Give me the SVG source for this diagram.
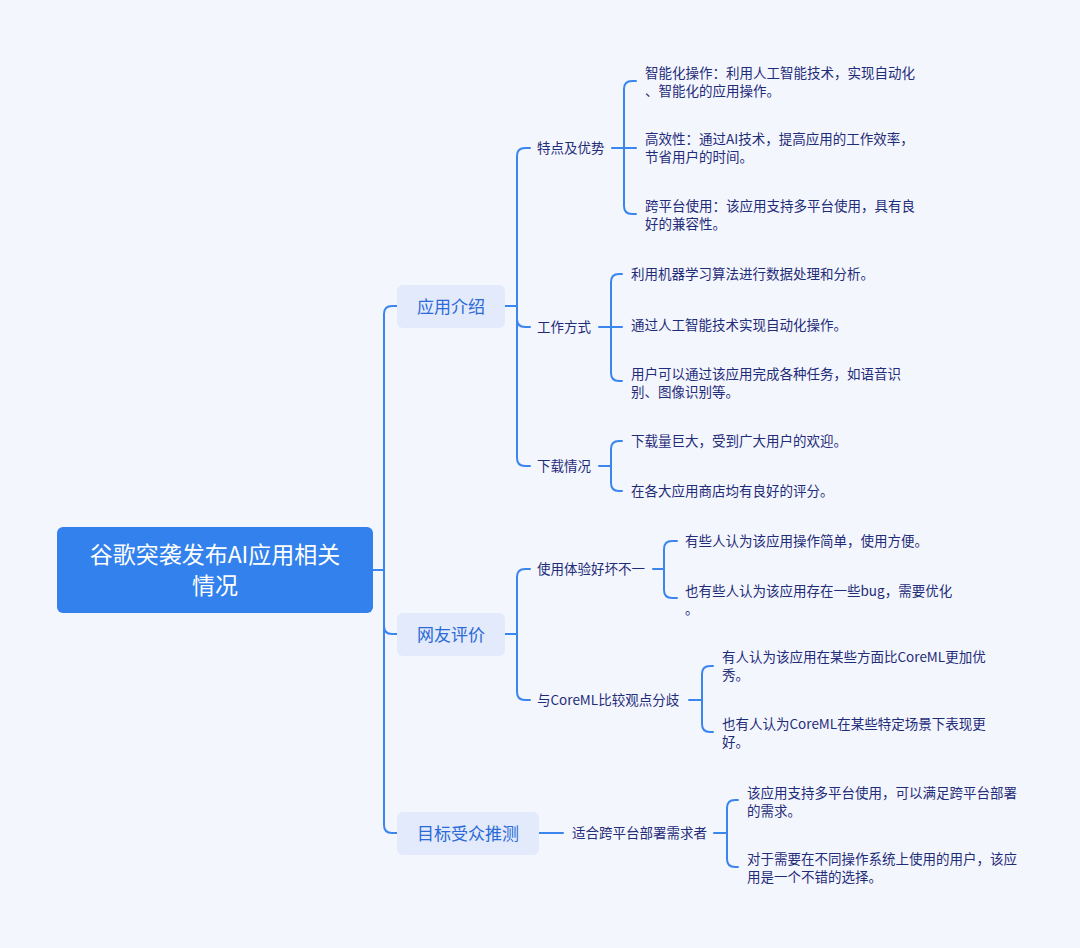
<svg xmlns="http://www.w3.org/2000/svg" width="1080" height="948" viewBox="0 0 1080 948">
<style>
text{font-family:"Noto Sans CJK SC","Noto Sans",sans-serif;dominant-baseline:central}
.root{fill:#3281EC}
.rt{fill:#FFFFFF;font-size:23px;text-anchor:middle}
.l1{fill:#E2EAFC}
.l1t{fill:#2B6AD6;font-size:17px;text-anchor:middle}
.l2t{fill:#1F2C78;font-size:13.5px}
.lt{fill:#1F2C78;font-size:13.5px}
.c{fill:none;stroke:#3A86EE;stroke-width:2;stroke-linecap:round;stroke-linejoin:round}
</style>
<rect width="1080" height="948" fill="#F4F6FE"/>
<g id="connectors">
<path class="c" d="M373 570H384"/>
<path class="c" d="M384 570V314Q384 306 392 306H397"/>
<path class="c" d="M384 570V626Q384 634 392 634H397"/>
<path class="c" d="M384 570V825Q384 833 392 833H397"/>
<path class="c" d="M505 306H517"/>
<path class="c" d="M517 306V156Q517 148 525 148H530"/>
<path class="c" d="M517 306V319Q517 327 525 327H530"/>
<path class="c" d="M517 306V458Q517 466 525 466H530"/>
<path class="c" d="M505 634H517"/>
<path class="c" d="M517 634V577Q517 569 525 569H530"/>
<path class="c" d="M517 634V692Q517 700 525 700H530"/>
<path class="c" d="M539 833H563"/>
<path class="c" d="M612 148H636"/>
<path class="c" d="M624 148V89Q624 81 632 81H636"/>
<path class="c" d="M624 148V206Q624 214 632 214H636"/>
<path class="c" d="M599 327H622"/>
<path class="c" d="M611 327V282Q611 274 619 274H622"/>
<path class="c" d="M611 327V373Q611 381 619 381H622"/>
<path class="c" d="M599 466H611"/>
<path class="c" d="M611 466V449Q611 441 619 441H622"/>
<path class="c" d="M611 466V483Q611 491 619 491H622"/>
<path class="c" d="M653 569H664"/>
<path class="c" d="M664 569V549Q664 541 672 541H677"/>
<path class="c" d="M664 569V590Q664 598 672 598H677"/>
<path class="c" d="M689 700H702"/>
<path class="c" d="M702 700V674Q702 666 710 666H713"/>
<path class="c" d="M702 700V724Q702 732 710 732H713"/>
<path class="c" d="M714 833H727"/>
<path class="c" d="M727 833V808Q727 800 735 800H738"/>
<path class="c" d="M727 833V859Q727 867 735 867H738"/>
</g>
<g id="root">
<rect class="root" x="57" y="527" width="316" height="86" rx="6"/>
<text class="rt" x="215" y="553">谷歌突袭发布AI应用相关</text>
<text class="rt" x="215" y="584">情况</text>
</g>
<g id="n-yingyong">
<rect class="l1" x="397" y="285" width="108" height="43" rx="6"/>
<text class="l1t" x="451" y="305">应用介绍</text>
</g>
<g id="n-wangyou">
<rect class="l1" x="397" y="613" width="108" height="43" rx="6"/>
<text class="l1t" x="451" y="633">网友评价</text>
</g>
<g id="n-mubiao">
<rect class="l1" x="397" y="812" width="142" height="43" rx="6"/>
<text class="l1t" x="468" y="832">目标受众推测</text>
</g>
<g id="n-tedian"><text class="l2t" x="537" y="146.5">特点及优势</text></g>
<g id="n-gongzuo"><text class="l2t" x="537" y="325.5">工作方式</text></g>
<g id="n-xiazai"><text class="l2t" x="537" y="464.5">下载情况</text></g>
<g id="n-tiyan"><text class="l2t" x="537" y="567.5">使用体验好坏不一</text></g>
<g id="n-coreml"><text class="l2t" x="537" y="698.5">与CoreML比较观点分歧</text></g>
<g id="n-shihe"><text class="l2t" x="572" y="831.5">适合跨平台部署需求者</text></g>
<g id="leaf-1"><text class="lt" x="645" y="71.5">智能化操作：利用人工智能技术，实现自动化</text><text class="lt" x="645" y="89.5">、智能化的应用操作。</text></g>
<g id="leaf-2"><text class="lt" x="645" y="138">高效性：通过AI技术，提高应用的工作效率，</text><text class="lt" x="645" y="156">节省用户的时间。</text></g>
<g id="leaf-3"><text class="lt" x="645" y="205">跨平台使用：该应用支持多平台使用，具有良</text><text class="lt" x="645" y="223">好的兼容性。</text></g>
<g id="leaf-4"><text class="lt" x="631" y="272.5">利用机器学习算法进行数据处理和分析。</text></g>
<g id="leaf-5"><text class="lt" x="631" y="323.5">通过人工智能技术实现自动化操作。</text></g>
<g id="leaf-6"><text class="lt" x="631" y="372.5">用户可以通过该应用完成各种任务，如语音识</text><text class="lt" x="631" y="390.5">别、图像识别等。</text></g>
<g id="leaf-7"><text class="lt" x="631" y="439.5">下载量巨大，受到广大用户的欢迎。</text></g>
<g id="leaf-8"><text class="lt" x="631" y="489.5">在各大应用商店均有良好的评分。</text></g>
<g id="leaf-9"><text class="lt" x="685" y="539.5">有些人认为该应用操作简单，使用方便。</text></g>
<g id="leaf-10"><text class="lt" x="685" y="589.5">也有些人认为该应用存在一些bug，需要优化</text><text class="lt" x="685" y="607.5">。</text></g>
<g id="leaf-11"><text class="lt" x="722" y="655.5">有人认为该应用在某些方面比CoreML更加优</text><text class="lt" x="722" y="673.5">秀。</text></g>
<g id="leaf-12"><text class="lt" x="722" y="722.5">也有人认为CoreML在某些特定场景下表现更</text><text class="lt" x="722" y="740.5">好。</text></g>
<g id="leaf-13"><text class="lt" x="747" y="791.5">该应用支持多平台使用，可以满足跨平台部署</text><text class="lt" x="747" y="809.5">的需求。</text></g>
<g id="leaf-14"><text class="lt" x="747" y="857.5">对于需要在不同操作系统上使用的用户，该应</text><text class="lt" x="747" y="875.5">用是一个不错的选择。</text></g>
</svg>
